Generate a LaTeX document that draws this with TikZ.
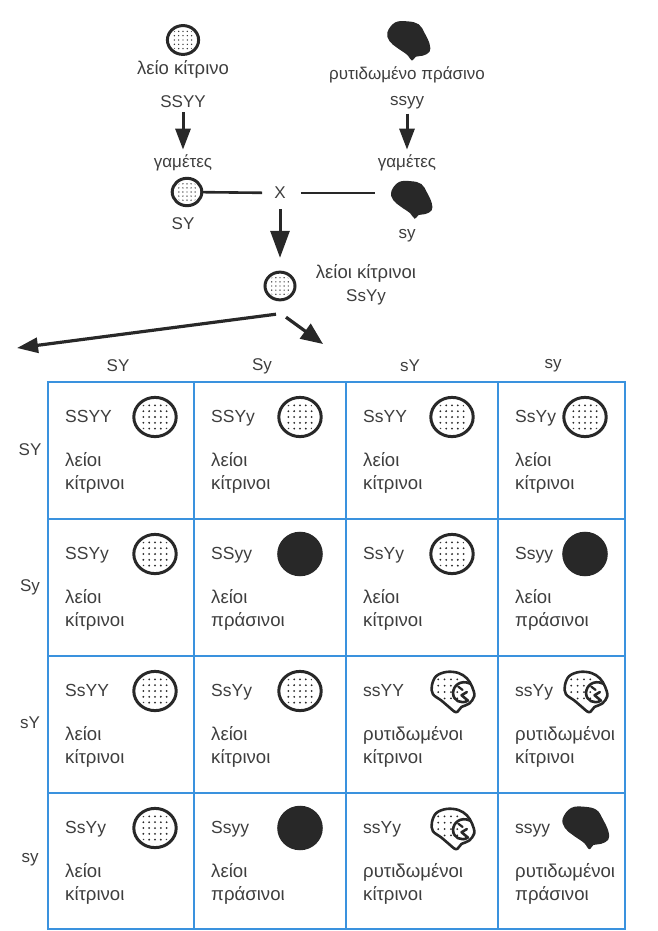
\documentclass[tikz,border=0pt]{standalone}
\usepackage{fontspec}
\setmainfont{Liberation Sans}
\usetikzlibrary{arrows.meta}

\definecolor{ink}{RGB}{40,40,40}
\definecolor{textc}{RGB}{62,62,62}
\definecolor{gridblue}{RGB}{58,146,222}

\tikzset{
  lbl/.style={font=\fontsize{17}{20}\selectfont, text=textc, inner sep=0pt},
  genotext/.style={lbl, font=\fontsize{17.5}{20}\selectfont, anchor=base west},
  celltext/.style={lbl, font=\fontsize{18.6}{22}\selectfont, anchor=base west},
  peaspot/.style={circle, minimum size=30pt, inner sep=0pt},
  bigarrow/.style={draw=ink, line width=3pt, -{Triangle[width=15pt,length=21pt]}},
  hugearrow/.style={draw=ink, line width=3pt, -{Triangle[width=19pt,length=27pt]}},
  crossline/.style={draw=ink, line width=2.6pt},
  gridline/.style={draw=gridblue, line width=1.6pt},
  % smooth yellow pea: outlined, dotted
  smoothpea/.pic={
    \fill[white] (0,0) ellipse[x radius=20, y radius=18.5];
    \begin{scope}
      \clip (0,0) ellipse[x radius=16.5, y radius=15];
      \foreach \i in {-11,-5.5,0,5.5,11}
        \foreach \j in {-11,-5.5,0,5.5,11}
          \fill[ink] (\i,\j) circle[radius=0.95];
    \end{scope}
    \draw[ink, line width=3pt] (0,0) ellipse[x radius=20, y radius=18.5];
  },
  % smooth green pea: solid
  greenpea/.pic={
    \fill[ink] (0,0) ellipse[x radius=21.5, y radius=21];
  },
  % wrinkled green pea: solid irregular blob
  wgreen/.pic={
    \fill[ink] plot[smooth cycle, tension=0.65] coordinates{
      (-21,-9) (-13,-19) (0,-20) (11,-17) (17,-8) (22,3) (22,11)
      (15,15) (8,16) (4,20) (-1,14) (-11,7) (-19,0)};
  },
  % wrinkled yellow pea: irregular outline, dotted, with folds
  wyellow/.pic={
    \fill[white] plot[smooth cycle, tension=0.6] coordinates{
      (-19,-5) (-15,-14) (-5,-18) (6,-17) (14,-12) (19,-4) (21,5)
      (16,12) (9,15) (4,20) (-3,15) (-10,9) (-18,3)};
    \foreach \i in {-13,-7,-1,5}
      \foreach \j in {-11,-5,1,7}
        \fill[ink] (\i,\j) circle[radius=0.95];
    \draw[ink, line width=2.6pt, line join=round] plot[smooth cycle, tension=0.6] coordinates{
      (-19,-5) (-15,-14) (-5,-18) (6,-17) (14,-12) (19,-4) (21,5)
      (16,12) (9,15) (4,20) (-3,15) (-10,9) (-18,3)};
    \draw[ink, line width=2.6pt, line cap=round, line join=round]
      (17,-7) .. controls (8,-11) and (1,-5) .. (1,2)
              .. controls (1,9) and (9,13) .. (15,9) -- (9,4) -- (14,1);
    \draw[ink, line width=2.2pt, line cap=round] (6,-4) -- (10,-1);
  },
}

% one square of the Punnett grid
\newcommand\pcell[8]{%
  \node[genotext] (#1g) at (#2+17,#3+40) {#5};
  \pic[scale=1.06] at (#2+#4,#3+35) {#6};
  \node[celltext] (#1a) at (#2+17,#3+84) {#7};
  \node[celltext] (#1b) at (#2+17,#3+107) {#8};
}

\begin{document}
\begin{tikzpicture}[x=1pt, y=-1pt]
\useasboundingbox (0,0) rectangle (658,931);

% ---- parents ----
\node[peaspot] (pL) at (183,40) {};
\pic[scale=0.78] at (pL) {smoothpea};
\node[lbl, font=\fontsize{18.5}{20}\selectfont] (tL) at (183,69) {λείο κίτρινο};
\node[lbl] (gL) at (183,102) {SSYY};
\node[lbl] (mL) at (183,163) {γαμέτες};

\node[peaspot] (pR) at (408,41) {};
\pic[scale=0.98] at (pR) {wgreen};
\node[lbl] (tR) at (407,75) {ρυτιδωμένο πράσινο};
\node[lbl] (gR) at (407,103) {ssyy};
\node[lbl] (mR) at (407,163) {γαμέτες};

\draw[bigarrow, shorten <=4pt, shorten >=5pt] (gL) -- (mL);
\draw[bigarrow, shorten <=4pt, shorten >=5pt] (gR) -- (mR);

% ---- gametes and cross ----
\node[peaspot] (zL) at (187,192) {};
\pic[scale=0.74] at (zL) {smoothpea};
\node[lbl] (zLt) at (183,224) {SY};

\node[peaspot, minimum size=44pt] (zR) at (411,200) {};
\pic[scale=0.94] at (zR) {wgreen};
\node[lbl] (zRt) at (407,236) {sy};

\node[lbl] (X) at (280,193) {X};
\draw[crossline, shorten >=12pt] (zL) -- (X);
\draw[crossline, line width=2.1pt, shorten <=15pt, shorten >=36pt] (X) -- (X -| zR);

% ---- F1 ----
\node[peaspot] (F1) at (280,286) {};
\pic[scale=0.75] at (F1) {smoothpea};
\node[lbl, font=\fontsize{18.5}{20}\selectfont] (F1a) at (366,273) {λείοι κίτρινοι};
\node[lbl] (F1b) at (366,297) {SsYy};
\draw[hugearrow, shorten <=10pt, shorten >=13pt] (X) -- (F1);

\coordinate (toL) at (17,348);
\coordinate (toR) at (323,344);
\draw[bigarrow, line width=3.2pt] ([xshift=-4pt, yshift=-13pt]F1.south) -- (toL);
\draw[bigarrow, line width=3.2pt, -{Triangle[width=18pt,length=22pt]}] ([xshift=6pt, yshift=-16pt]F1.south) -- (toR);

% ---- column and row headings ----
\node[lbl] (c1) at (118,366) {SY};
\node[lbl] (c2) at (262,366) {Sy};
\node[lbl] (c3) at (410,366) {sY};
\node[lbl] (c4) at (553,366) {sy};

\node[lbl] (r1) at (30,450) {SY};
\node[lbl] (r2) at (30,587) {Sy};
\node[lbl] (r3) at (30,723) {sY};
\node[lbl] (r4) at (30,860) {sy};

% ---- grid ----
\draw[gridline] (48,382) rectangle (625,929);
\foreach \gx in {194,346,498} \draw[gridline] (\gx,382) -- (\gx,929);
\foreach \gy in {519,656,793} \draw[gridline] (48,\gy) -- (625,\gy);

% ---- squares ----
\pcell{k11}{48}{382}{107}{SSYY}{smoothpea}{λείοι}{κίτρινοι}
\pcell{k12}{194}{382}{106}{SSYy}{smoothpea}{λείοι}{κίτρινοι}
\pcell{k13}{346}{382}{106}{SsYY}{smoothpea}{λείοι}{κίτρινοι}
\pcell{k14}{498}{382}{87}{SsYy}{smoothpea}{λείοι}{κίτρινοι}

\pcell{k21}{48}{519}{107}{SSYy}{smoothpea}{λείοι}{κίτρινοι}
\pcell{k22}{194}{519}{106}{SSyy}{greenpea}{λείοι}{πράσινοι}
\pcell{k23}{346}{519}{106}{SsYy}{smoothpea}{λείοι}{κίτρινοι}
\pcell{k24}{498}{519}{87}{Ssyy}{greenpea}{λείοι}{πράσινοι}

\pcell{k31}{48}{656}{107}{SsYY}{smoothpea}{λείοι}{κίτρινοι}
\pcell{k32}{194}{656}{106}{SsYy}{smoothpea}{λείοι}{κίτρινοι}
\pcell{k33}{346}{656}{106}{ssYY}{wyellow}{ρυτιδωμένοι}{κίτρινοι}
\pcell{k34}{498}{656}{87}{ssYy}{wyellow}{ρυτιδωμένοι}{κίτρινοι}

\pcell{k41}{48}{793}{107}{SsYy}{smoothpea}{λείοι}{κίτρινοι}
\pcell{k42}{194}{793}{106}{Ssyy}{greenpea}{λείοι}{πράσινοι}
\pcell{k43}{346}{793}{106}{ssYy}{wyellow}{ρυτιδωμένοι}{κίτρινοι}
\pcell{k44}{498}{793}{87}{ssyy}{wgreen}{ρυτιδωμένοι}{πράσινοι}

\end{tikzpicture}
\end{document}
